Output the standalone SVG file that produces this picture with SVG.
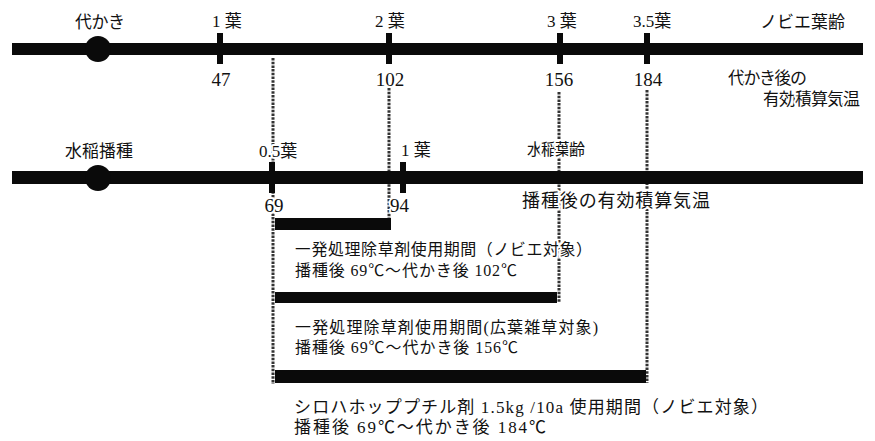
<svg xmlns="http://www.w3.org/2000/svg" width="875" height="441" viewBox="0 0 875 441">
<style>
.t{font-family:"Liberation Serif","Noto Sans CJK JP",serif;fill:#111;stroke:#fff;stroke-width:4;stroke-linejoin:round;paint-order:stroke}
.s16{font-size:16px}.s17{font-size:17px}.s18{font-size:18px}.s19{font-size:19px}.s15{font-size:15px}
.bar{fill:#0a0a0a}
.dot{stroke:#333;stroke-width:3;stroke-dasharray:2.5 1.2;fill:none}
</style>
<rect width="875" height="441" fill="#fff"/>
<g id="connectors">
<line class="dot" x1="273" y1="58" x2="273" y2="384"/>
<line class="dot" x1="389" y1="88" x2="389" y2="230"/>
<line class="dot" x1="559" y1="92" x2="559" y2="302"/>
<line class="dot" x1="647" y1="90" x2="647" y2="383"/>
</g>
<g id="timeline-nobie">
<rect class="bar" x="12" y="43" width="851" height="12"/>
<circle class="bar" cx="98" cy="49" r="13"/>
<rect class="bar" x="217" y="33" width="6" height="31"/>
<rect class="bar" x="386" y="33" width="6" height="31"/>
<rect class="bar" x="557" y="33" width="6" height="31"/>
<rect class="bar" x="644" y="33" width="6" height="31"/>
<text class="t s17" x="75" y="28" textLength="50">代かき</text>
<text class="t s17" x="212" y="27">1 葉</text>
<text class="t s17" x="375" y="27">2 葉</text>
<text class="t s17" x="547" y="27">3 葉</text>
<text class="t s17" x="633" y="27">3.5葉</text>
<text class="t s17" x="760" y="28" textLength="85">ノビエ葉齢</text>
<text class="t s19" x="221" y="86" text-anchor="middle">47</text>
<text class="t s19" x="390" y="86" text-anchor="middle">102</text>
<text class="t s19" x="559" y="86" text-anchor="middle">156</text>
<text class="t s19" x="648" y="86" text-anchor="middle">184</text>
<text class="t s17" x="728" y="84" textLength="79">代かき後の</text>
<text class="t s17" x="763" y="105" textLength="97">有効積算気温</text>
</g>
<g id="timeline-rice">
<rect class="bar" x="12" y="171" width="851" height="13"/>
<circle class="bar" cx="98" cy="178" r="13"/>
<rect class="bar" x="269" y="162" width="6" height="31"/>
<rect class="bar" x="400" y="162" width="6" height="31"/>
<text class="t s17" x="65" y="157" textLength="68">水稲播種</text>
<text class="t s17" x="259" y="157">0.5葉</text>
<text class="t s17" x="401" y="156">1 葉</text>
<text class="t s16" x="527" y="155" textLength="58">水稲葉齢</text>
<text class="t s19" x="274" y="212" text-anchor="middle">69</text>
<text class="t s19" x="390" y="212">94</text>
<text class="t s18" x="522" y="207" textLength="188">播種後の有効積算気温</text>
</g>
<g id="period-nobie">
<rect class="bar" x="275" y="218" width="116" height="12"/>
<text class="t s16" x="295" y="255" textLength="297">一発処理除草剤使用期間（ノビエ対象）</text>
<text class="t s16" x="295" y="276" textLength="222">播種後 69℃〜代かき後 102℃</text>
</g>
<g id="period-broadleaf">
<rect class="bar" x="275" y="292" width="282" height="11"/>
<text class="t s16" x="295" y="333" textLength="303">一発処理除草剤使用期間(広葉雑草対象)</text>
<text class="t s16" x="295" y="353" textLength="223">播種後 69℃〜代かき後 156℃</text>
</g>
<g id="period-cyhalofop">
<rect class="bar" x="275" y="370" width="371" height="13"/>
<text class="t s17" x="294" y="413" textLength="474">シロハホッププチル剤 1.5kg /10a 使用期間（ノビエ対象）</text>
<text class="t s17" x="294" y="433" textLength="252">播種後 69℃〜代かき後 184℃</text>
</g>
</svg>
